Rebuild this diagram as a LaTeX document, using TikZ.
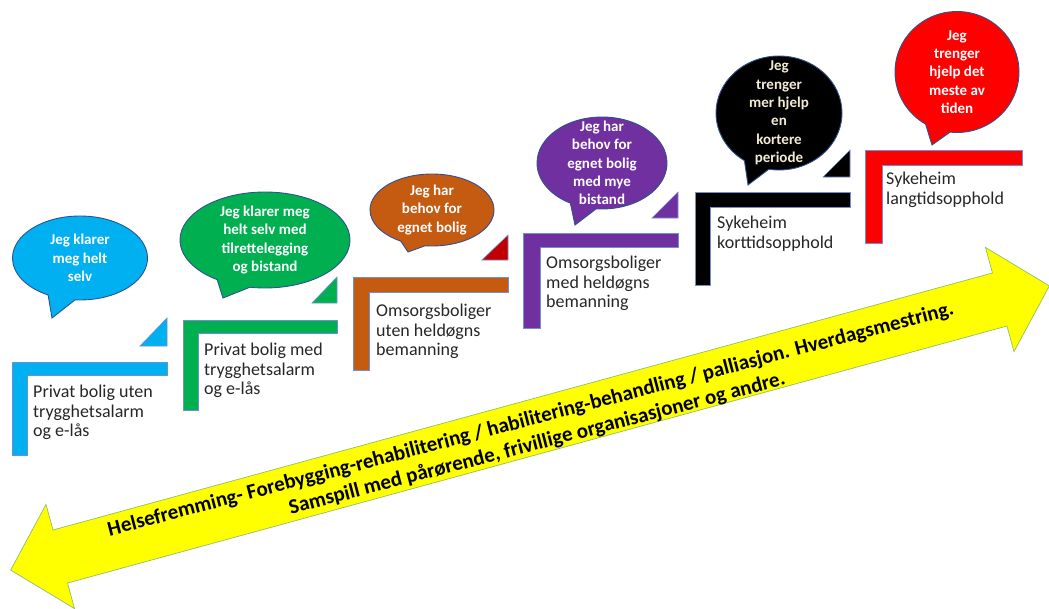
\documentclass[tikz,border=0pt]{standalone}
\usepackage{fontspec}
\setmainfont{Carlito}
\usetikzlibrary{shapes.callouts}
\definecolor{cblue}{HTML}{00B0F0}
\definecolor{cgreen}{HTML}{00B050}
\definecolor{corange}{HTML}{C55A11}
\definecolor{cpurple}{HTML}{7030A0}
\definecolor{cblack}{HTML}{000000}
\definecolor{cred}{HTML}{FF0000}
\definecolor{cdarkred}{HTML}{C00000}
\definecolor{cyellow}{HTML}{FFFF00}
\definecolor{edge}{HTML}{6E8FD0}
\definecolor{bubedge}{HTML}{2F528F}
\definecolor{arredge}{HTML}{8CC06A}
\definecolor{txt}{HTML}{262626}
\definecolor{cream}{HTML}{F4EBD6}
\tikzset{
  stepL/.style={draw=edge, line width=0.6pt},
  tri/.style={draw=edge, line width=0.6pt},
  bubble/.style={ellipse callout, draw=bubedge, line width=0.9pt, inner sep=0pt, callout pointer arc=24},
  bubtext/.style={text=white, font=\fontsize{15}{18.3}\selectfont\bfseries, align=center, inner sep=0pt},
  lbl/.style={anchor=north west, align=left, font=\fontsize{18}{19.5}\selectfont, text=txt, inner sep=0pt},
  arrtext/.style={rotate=14.7, align=center, font=\fontsize{21}{25}\selectfont\bfseries, text=black, inner sep=0pt}
}
\begin{document}
\begin{tikzpicture}[x=1pt,y=-1pt]
\useasboundingbox (0,0) rectangle (1049,608);

% big double arrow
\begin{scope}[shift={(530,428)}, rotate=15.3]
\filldraw[fill=cyellow, draw=arredge, line width=0.7pt]
  (-538.5,0) -- (-487,-54) -- (-487,-27.5) -- (487,-27.5) -- (487,-54) -- (538.5,0)
  -- (487,54) -- (487,27.5) -- (-487,27.5) -- (-487,54) -- cycle;
\end{scope}
\node[arrtext] (arrowtext) at (534,432) {Helsefremming- Forebygging-rehabilitering / habilitering-behandling / palliasjon. Hverdagsmestring.\\Samspill med pårørende, frivillige organisasjoner og andre.};

% step 1
\filldraw[stepL, fill=cblue] (12,362) -- (167,362) -- (167,375) -- (27,375) -- (27,455) -- (12,455) -- cycle;
\filldraw[tri, fill=cblue] (140,346) -- (167,346) -- (167,318) -- cycle;
\node[lbl] (l1) at (33,385) {Privat bolig uten\\trygghetsalarm\\og e-lås};
\node[bubble, fill=cblue, minimum width=135pt, minimum height=84pt, callout absolute pointer={(52,318)}] (b1) at (80,258) {};
\node[bubtext] (t1) at (b1.center) {Jeg klarer\\meg helt\\selv};

% step 2
\filldraw[stepL, fill=cgreen] (183,320) -- (337,320) -- (337,333) -- (198,333) -- (198,410) -- (183,410) -- cycle;
\filldraw[tri, fill=cgreen] (312,303) -- (337,303) -- (337,277) -- cycle;
\node[lbl] (l2) at (204,343) {Privat bolig med\\trygghetsalarm\\og e-lås};
\node[bubble, fill=cgreen, minimum width=170pt, minimum height=96pt, callout absolute pointer={(223,298)}] (b2) at (265,240) {};
\node[bubtext] (t2) at (b2.center) {Jeg klarer meg\\helt selv med\\tilrettelegging\\og bistand};

% step 3
\filldraw[stepL, fill=corange] (353,277) -- (508,277) -- (508,292) -- (369,292) -- (369,370) -- (353,370) -- cycle;
\filldraw[tri, fill=cdarkred] (482,260) -- (508,260) -- (508,235) -- cycle;
\node[lbl] (l3) at (376,304) {Omsorgsboliger\\uten heldøgns\\bemanning};
\node[bubble, fill=corange, minimum width=124pt, minimum height=72pt, callout absolute pointer={(408,252)}] (b3) at (432,210) {};
\node[bubtext] (t3) at (b3.center) {Jeg har\\behov for\\egnet bolig};

% step 4
\filldraw[stepL, fill=cpurple] (523,233) -- (678,233) -- (678,247) -- (540,247) -- (540,328) -- (523,328) -- cycle;
\filldraw[tri, fill=cpurple] (652,218) -- (678,218) -- (678,192) -- cycle;
\node[lbl] (l4) at (546,256) {Omsorgsboliger\\med heldøgns\\bemanning};
\node[bubble, fill=cpurple, minimum width=130pt, minimum height=92pt, callout absolute pointer={(575,225)}] (b4) at (602,163) {};
\node[bubtext] (t4) at (b4.center) {Jeg har\\behov for\\egnet bolig\\med mye\\bistand};

% step 5
\filldraw[stepL, fill=cblack] (695,192) -- (850,192) -- (850,207) -- (710,207) -- (710,285) -- (695,285) -- cycle;
\filldraw[tri, fill=cblack] (823,177) -- (850,177) -- (850,150) -- cycle;
\node[lbl] (l5) at (717,216) {Sykeheim\\korttidsopphold};
\node[bubble, fill=cblack, minimum width=126pt, minimum height=114pt, callout absolute pointer={(748,185)}] (b5) at (779,113) {};
\node[bubtext, text=cream] (t5) at (b5.center) {Jeg\\trenger\\mer hjelp\\en\\kortere\\periode};

% step 6
\filldraw[stepL, fill=cred] (865,150) -- (1022,150) -- (1022,165) -- (882,165) -- (882,243) -- (865,243) -- cycle;
\node[lbl] (l6) at (886,172) {Sykeheim\\langtidsopphold};
\node[bubble, fill=cred, minimum width=124pt, minimum height=121pt, callout absolute pointer={(932,145)}] (b6) at (957,72) {};
\node[bubtext] (t6) at (b6.center) {Jeg\\trenger\\hjelp det\\meste av\\tiden};
\end{tikzpicture}
\end{document}
